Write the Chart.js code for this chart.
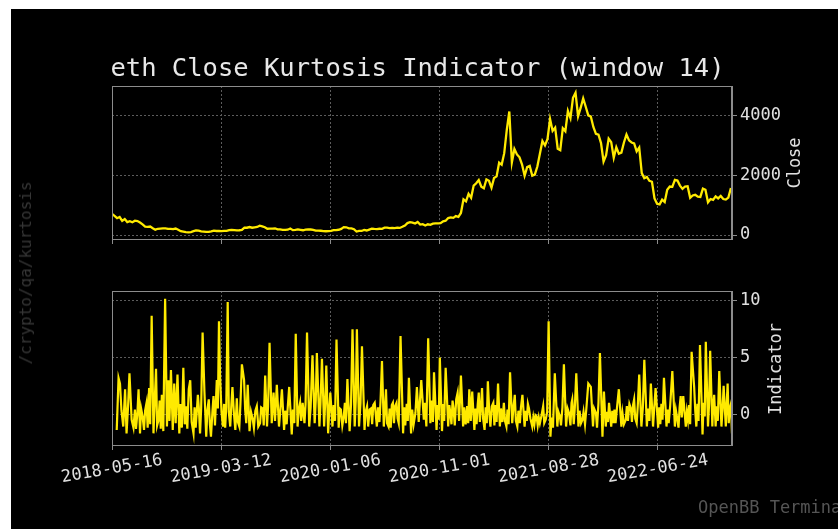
<!DOCTYPE html>
<html>
<head>
<meta charset="utf-8">
<script src="https://cdn.jsdelivr.net/npm/chart.js@4.4.1/dist/chart.umd.min.js"></script>
<style>
  html, body { margin: 0; padding: 0; background: #fff; width: 838px; height: 529px; overflow: hidden; }
  #fondo { position: absolute; left: 11px; top: 9px; width: 827px; height: 520px; background: #000; }
  canvas { position: absolute; left: 0; top: 0; }
  .txt { position: absolute; font-family: 'DejaVu Sans Mono', monospace; white-space: nowrap; line-height: 1; }
  .centro { transform: translate(-50%, -50%); }
  .vertical { transform: translate(-50%, -50%) rotate(-90deg); }
</style>
</head>
<body>
<div id="fondo"></div>
<canvas id="graficaCierre" width="838" height="529"></canvas>
<canvas id="graficaIndicador" width="838" height="529"></canvas>

<div class="txt centro" style="left:417.5px; top:67.5px; font-size:25.5px; color:#e8e8e8;">eth Close Kurtosis Indicator (window 14)</div>
<div class="txt vertical" style="left:794px; top:163px; font-size:17px; color:#e0e0e0;">Close</div>
<div class="txt vertical" style="left:775px; top:369px; font-size:17px; color:#e0e0e0;">Indicator</div>
<div class="txt vertical" style="left:25.5px; top:272.5px; font-size:16px; color:#363636;">/crypto/qa/kurtosis</div>
<div class="txt" style="left:698px; top:498.5px; font-size:17px; color:#555;">OpenBB Terminal</div>

<script>
// fecha inicial de la serie (dia 0)
const fechaInicio = '2018-05-16';
const diaFinal = 1704;
const diasTicks = [0, 300, 600, 900, 1200, 1500];
const ticksCierre = [0, 2000, 4000];
const ticksIndicador = [0, 5, 10];

// cierre semanal (un valor cada 7 dias desde fechaInicio)
const pasoCierre = 7;
const cierre2018 = [710, 640, 565, 605, 475, 535, 435, 465, 430, 480, 470, 420, 355, 280, 275, 285, 230, 180, 210, 215,
  220, 225, 205, 205, 198, 218, 180, 130, 115, 100, 88, 100, 128];
const cierre2019 = [155, 150, 122, 117, 108, 104, 122, 148, 135, 136, 133, 138, 138, 165, 175, 167, 155, 160, 170, 250,
  245, 268, 245, 260, 270, 315, 290, 260, 210, 215, 218, 225, 188, 187, 170, 175, 178, 220, 165, 175,
  190, 175, 160, 183, 190, 185, 175, 150, 145, 143, 132, 127];
const cierre2020 = [130, 141, 165, 167, 177, 205, 265, 260, 225, 225, 195, 117, 137, 136, 172, 152, 183, 215, 205, 200,
  210, 208, 245, 245, 234, 238, 230, 245, 238, 275, 320, 400, 430, 415, 385, 440, 350, 365, 320, 360,
  340, 380, 390, 390, 400, 460, 480, 570, 590, 575, 635, 610, 740];
const cierre2021 = [1200, 1130, 1380, 1250, 1660, 1740, 1850, 1625, 1570, 1870, 1820, 1590, 1920, 1970, 2430, 2360,
  2750, 3530, 4150, 2440, 2890, 2710, 2610, 2370, 1990, 2280, 2320, 1995, 2030, 2300, 2730, 3160,
  3010, 3230, 3900, 3500, 3610, 2900, 2850, 3590, 3490, 4170, 3930, 4610, 4780, 3990, 4270, 4590,
  4310, 4020, 3980, 3630];
const cierre2022 = [3400, 3370, 3090, 2470, 2680, 3240, 3120, 2600, 2950, 2730, 2770, 3110, 3380, 3180, 3110, 3080,
  2810, 2940, 2080, 1910, 1950, 1820, 1790, 1230, 1050, 1030, 1190, 1110, 1520, 1630, 1620, 1850,
  1830, 1660, 1550, 1630, 1640, 1250, 1330, 1350, 1290, 1280, 1560, 1520, 1100, 1210, 1180, 1300,
  1230, 1310, 1210, 1190];
const cierre2023 = [1260, 1580];

// kurtosis (ventana 14): [dia desde fechaInicio, valor]
const indicador2018 = [[13, -1.4], [18, 3.2], [22, 2.7], [26, 0.3], [31, -1.1], [36, 2.2], [40, -1.7], [44, 0.6], [48, 3.6],
  [54, -0.5], [59, -1.2], [63, 0.4], [66, -1.3], [70, 0.2], [73, 2.2], [77, -1.7], [80, 0.5], [84, -0.2], [88, -1.4],
  [91, 0.3], [95, 1.0], [98, -1.2], [102, 2.3], [105, -0.9], [109, 8.7], [114, -1.7], [117, 0.8], [121, 4.0],
  [124, -1.0], [128, -0.5], [131, 1.2], [134, -1.3], [137, 1.7], [141, -1.5], [146, 10.2], [151, -1.1], [155, 3.0],
  [158, -0.6], [162, 3.9], [167, -1.4], [171, 2.7], [175, -0.8], [180, 3.5], [185, -1.7], [188, 0.9], [192, -1.2],
  [196, 4.1], [200, -0.9], [204, 0.7], [207, -1.3], [211, 2.2], [215, 3.0], [219, -0.7], [224, -1.7], [227, 0.6]];
const indicador2019 = [[230, -1.2], [233, 0.2], [236, 1.7], [239, 0.4], [242, -1.7], [245, 0.5], [249, 7.2], [254, 2.0],
  [259, -2.0], [262, 0.3], [266, 1.3], [269, -0.9], [272, -2.0], [276, 0.2], [279, 1.6], [283, -1.0], [288, 3.0],
  [291, 0.5], [294, 8.2], [297, 3.3], [301, 0.2], [305, -1.1], [308, 0.9], [311, -1.2], [314, 0.6], [318, 9.9],
  [321, 0.2], [325, -1.1], [328, 0.8], [331, 2.4], [335, 0.1], [339, -1.4], [343, 1.4], [346, -0.7], [350, -1.1],
  [353, 0.9], [357, 4.4], [363, 3.0], [366, 0.4], [369, -0.8], [373, 2.6], [378, -1.5], [382, 0.2], [387, -0.5],
  [390, -1.2], [394, 0.3], [398, 0.7], [402, -1.1], [407, -0.8], [410, 0.6], [414, 0.5], [417, -1.0], [421, 3.4],
  [426, -1.1], [429, 0.7], [433, 6.3], [439, -0.8], [444, 1.9], [448, -0.6], [453, 2.6], [459, -1.1], [463, 0.5],
  [467, 2.2], [473, -1.4], [476, 0.3], [480, -0.9], [483, 0.6], [487, 2.4], [494, -1.8], [497, 0.4], [501, -0.8],
  [505, 7.1], [510, -1.1], [513, 0.3], [517, 1.0], [520, -0.6], [524, 1.0], [529, -0.8], [532, 0.9], [536, 7.2],
  [542, -1.1], [546, 0.6], [551, 5.2], [557, -0.8], [560, 1.2], [563, 5.4], [570, -1.1], [573, 0.9], [577, 4.9],
  [583, -1.1], [586, 1.1], [589, 4.3], [594, -1.7]];
const indicador2020 = [[597, 0.3], [600, 1.9], [606, -1.1], [609, 0.8], [613, -0.6], [617, 6.6], [623, -1.2], [626, 0.5],
  [629, 0.4], [633, -1.0], [637, -0.2], [640, 1.0], [643, -0.8], [647, 3.1], [653, -1.5], [657, 0.9], [661, 7.5],
  [667, -1.1], [670, 1.2], [673, 7.5], [679, -1.1], [683, 1.0], [687, 6.0], [694, -1.4], [697, 0.2], [701, 0.7],
  [704, -1.1], [708, 0.4], [712, 0.5], [715, -0.9], [718, 0.8], [722, 1.0], [728, -1.1], [731, 0.6], [735, -0.7],
  [738, 1.1], [742, 4.7], [747, -1.1], [750, 0.4], [753, 2.2], [756, -0.8], [760, -1.1], [763, 0.5], [766, -1.2],
  [769, 0.8], [772, 1.0], [775, -0.8], [778, 0.7], [782, 1.0], [785, -0.4], [788, -0.8], [793, 6.9], [800, -1.7],
  [803, 0.6], [806, -1.0], [810, 0.9], [813, -0.6], [816, 3.2], [822, -1.7], [825, 0.4], [829, -0.9], [834, 0.1],
  [838, 2.4], [843, -0.7], [846, 1.0], [850, 3.0], [857, -0.5], [860, 1.0], [864, -1.1], [869, 6.7], [875, -0.8],
  [879, 1.2], [882, -0.7], [885, 3.7], [892, -1.4], [895, 0.8], [898, -0.5], [901, 5.0], [907, -1.5], [910, 0.9],
  [913, -0.6], [917, 4.1], [924, -1.1], [927, 0.8], [930, 0.1], [933, -0.9], [936, 1.2], [939, 0.4], [942, -1.0],
  [946, 1.3], [950, 1.9], [954, -0.6], [959, 3.4]];
const indicador2021 = [[965, -1.1], [968, 0.6], [972, -0.9], [976, 0.7], [979, -0.8], [982, 2.2], [986, -0.6], [990, 2.0],
  [996, -1.4], [999, 0.5], [1002, -0.9], [1005, 0.8], [1008, 1.9], [1011, -0.7], [1014, 0.6], [1017, 2.3],
  [1020, -0.4], [1024, -1.4], [1027, 0.6], [1030, -0.8], [1033, 2.9], [1037, 0.1], [1040, -1.1], [1044, 0.7],
  [1048, 1.0], [1051, -1.0], [1054, 0.8], [1057, -0.7], [1061, 2.7], [1066, -1.1], [1069, 0.5], [1073, -0.7],
  [1077, 1.0], [1080, -0.6], [1084, -1.1], [1087, 0.4], [1090, -0.9], [1094, 3.7], [1100, -0.8], [1103, 0.5],
  [1107, 1.7], [1110, -0.6], [1114, -1.1], [1117, 0.3], [1121, -0.8], [1124, 0.6], [1128, 1.7], [1134, -1.1],
  [1137, 0.3], [1140, -0.6], [1143, 0.9], [1146, 0.5], [1150, -0.4], [1155, -1.1], [1158, -0.3], [1161, -0.9],
  [1164, -0.1], [1167, -0.2], [1170, -1.0], [1173, -0.3], [1176, -0.8], [1180, -0.2], [1185, 0.7], [1188, -0.8],
  [1192, -0.5], [1196, 0.2], [1200, 8.2], [1205, -2.0], [1208, -0.3], [1212, -1.2], [1217, 3.6], [1224, -1.1],
  [1227, 0.2], [1231, -0.2], [1234, -1.0], [1238, 0.6], [1242, 4.4], [1248, -1.1], [1252, 0.5], [1256, 0.1],
  [1260, -1.0], [1263, 1.0], [1265, 1.3], [1269, -0.9], [1272, 0.6], [1276, 3.6], [1282, -1.1], [1285, 0.3],
  [1289, -0.8], [1293, -0.5], [1296, 0.2], [1300, -0.9], [1304, 0.6], [1309, 2.7], [1316, 2.4], [1322, -1.1]];
const indicador2022 = [[1325, 0.5], [1330, 0.1], [1333, -1.2], [1337, 1.0], [1341, 5.4], [1348, -2.0], [1352, 2.0],
  [1357, -1.1], [1360, 0.2], [1363, -0.7], [1366, 1.0], [1372, -1.1], [1375, 0.3], [1378, -0.8], [1381, 0.4],
  [1384, -0.8], [1388, 0.6], [1393, 2.2], [1400, -1.1], [1403, 0.1], [1407, -0.9], [1412, -0.5], [1415, 0.7],
  [1418, -0.6], [1422, 0.9], [1426, 0.5], [1429, -0.7], [1432, 0.8], [1435, 1.3], [1438, -0.4], [1442, -0.8],
  [1445, 0.7], [1449, 3.5], [1455, -1.1], [1459, 0.6], [1463, 4.8], [1470, -1.1], [1473, 0.5], [1477, -0.6],
  [1481, 2.7], [1487, -1.1], [1490, 0.4], [1494, 2.3], [1501, -1.2], [1504, 0.6], [1507, -0.9], [1510, 0.9],
  [1513, -0.5], [1517, 3.2], [1524, -1.1], [1527, 0.4], [1530, -0.8], [1534, 0.7], [1540, 3.8], [1547, -1.1],
  [1550, 0.3], [1554, -0.5], [1557, -1.2], [1560, 0.6], [1563, 1.6], [1566, -0.3], [1570, 1.6], [1577, -1.1],
  [1580, 0.2], [1583, -0.5], [1586, 0.8], [1589, -0.9], [1593, 5.5], [1600, 2.4], [1603, 0.3], [1606, -1.1],
  [1609, 0.9], [1612, -0.6], [1616, 6.1], [1623, -1.8], [1626, 1.0], [1629, -0.2], [1632, 6.4], [1638, -1.1],
  [1641, 0.9], [1644, 5.6], [1650, -1.1], [1652, 0.6], [1655, 1.7], [1659, -1.1], [1662, 0.7], [1665, -0.6],
  [1669, 3.8], [1675, -1.1], [1678, 0.4], [1681, 2.5], [1687, -1.1], [1689, 0.6]];
const indicador2023 = [[1692, 2.7], [1695, -0.8], [1698, 0.5], [1701, 0.9], [1704, -1.7]];

const amarillo = '#ffea00';
const colorTexto = '#e0e0e0';
const colorGrid = '#5c5c5c';
const colorBorde = '#8c8c8c';
const fuente = "'DejaVu Sans Mono', monospace";

const inicioMs = Date.parse(fechaInicio + 'T00:00:00Z');
function fechaDesdeDia(dia) {
    return new Date(inicioMs + dia * 86400000).toISOString().slice(0, 10);
}

// puntos de las series
const valoresCierre = [].concat(cierre2018, cierre2019, cierre2020, cierre2021, cierre2022, cierre2023);
const puntosCierre = valoresCierre.map((v, i) => ({ x: i * pasoCierre, y: v }));
const puntosIndicador = [].concat(indicador2018, indicador2019, indicador2020, indicador2021, indicador2022, indicador2023)
    .map(p => ({ x: p[0], y: p[1] }));

// marco completo alrededor del area de trazado
const marco = {
    id: 'marco',
    afterDraw(chart) {
        const { ctx, chartArea: a } = chart;
        ctx.save();
        ctx.strokeStyle = colorBorde;
        ctx.lineWidth = 1;
        ctx.strokeRect(a.left + 0.5, a.top + 0.5, a.right - a.left - 1, a.bottom - a.top);
        ctx.restore();
    }
};

// etiquetas de fecha inclinadas y centradas en cada tick
const etiquetasFecha = {
    id: 'etiquetasFecha',
    afterDraw(chart) {
        const { ctx, chartArea } = chart;
        const escala = chart.scales.x;
        ctx.save();
        ctx.fillStyle = colorTexto;
        ctx.font = '17px ' + fuente;
        ctx.textAlign = 'center';
        ctx.textBaseline = 'middle';
        escala.ticks.forEach(t => {
            ctx.save();
            ctx.translate(escala.getPixelForValue(t.value), chartArea.bottom + 24);
            ctx.rotate(-10 * Math.PI / 180);
            ctx.fillText(fechaDesdeDia(t.value), 0, 0);
            ctx.restore();
        });
        ctx.restore();
    }
};

function crearGrafica(idCanvas, puntos, cfg, extras) {
    const rejilla = { color: colorGrid, tickColor: colorBorde, tickLength: 5, lineWidth: 1 };
    const borde = { color: colorBorde, dash: [2, 2] };
    return new Chart(document.getElementById(idCanvas), {
        type: 'line',
        data: {
            datasets: [{
                data: puntos,
                borderColor: amarillo,
                borderWidth: cfg.grosor,
                pointRadius: 0,
                tension: 0,
                fill: false
            }]
        },
        options: {
            responsive: false,
            animation: false,
            layout: { padding: { left: 112, right: 0, top: cfg.arriba, bottom: cfg.abajo } },
            plugins: { legend: { display: false }, tooltip: { enabled: false } },
            scales: {
                x: {
                    type: 'linear',
                    min: 0,
                    max: diaFinal,
                    afterBuildTicks: s => { s.ticks = diasTicks.map(v => ({ value: v })); },
                    afterFit: s => { s.height = 5; },
                    ticks: { display: false },
                    grid: rejilla,
                    border: borde
                },
                y: {
                    position: 'right',
                    min: cfg.min,
                    max: cfg.max,
                    afterBuildTicks: s => { s.ticks = cfg.ticks.map(v => ({ value: v })); },
                    afterFit: s => { s.width = 106; },
                    ticks: {
                        color: colorTexto,
                        font: { family: fuente, size: 17 },
                        padding: 3,
                        callback: v => String(v)
                    },
                    grid: rejilla,
                    border: borde
                }
            }
        },
        plugins: [marco].concat(extras)
    });
}

crearGrafica('graficaCierre', puntosCierre,
    { min: -134, max: 5008, ticks: ticksCierre, arriba: 86, abajo: 529 - 239 - 5, grosor: 2.3 }, []);
crearGrafica('graficaIndicador', puntosIndicador,
    { min: -2.73, max: 10.88, ticks: ticksIndicador, arriba: 291, abajo: 529 - 445 - 5, grosor: 2.2 }, [etiquetasFecha]);
</script>
</body>
</html>
